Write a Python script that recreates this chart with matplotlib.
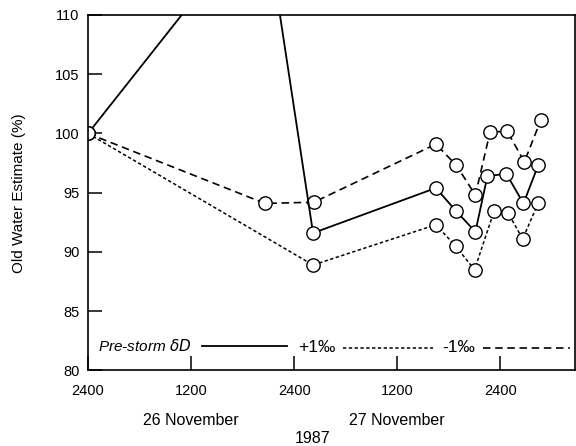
import matplotlib
matplotlib.use("Agg")
import matplotlib.pyplot as plt

plt.rcParams['font.family'] = ['Liberation Sans', 'DejaVu Sans']

# hours after 2400 on 25 November 1987
hours_pre = [0, 20.5, 26.2, 40.5, 42.8, 45.1, 46.5, 48.7, 50.7, 52.4]
old_water_pre = [100, 118.8, 91.6, 95.4, 93.5, 91.7, 96.4, 96.6, 94.1, 97.3]

hours_plus = [0, 26.2, 40.5, 42.8, 45.0, 47.3, 48.9, 50.6, 52.4]
old_water_plus = [100, 88.9, 92.3, 90.5, 88.5, 93.5, 93.3, 91.1, 94.1]

hours_minus = [0, 20.6, 26.3, 40.5, 42.9, 45.1, 46.8, 48.8, 50.8, 52.7]
old_water_minus = [100, 94.1, 94.2, 99.1, 97.3, 94.8, 100.1, 100.2, 97.6, 101.1]

xticks = [0, 12, 24, 36, 48]
xtick_labels = ["2400", "1200", "2400", "1200", "2400"]
yticks = [80, 85, 90, 95, 100, 105, 110]

fig = plt.figure(figsize=(5.76, 4.46), dpi=100)
ax = fig.add_axes([0.1528, 0.1693, 0.8455, 0.7971])

mk = dict(marker='o', markersize=9.6, markerfacecolor='white',
          markeredgecolor='black', markeredgewidth=1.0, color='black')
ax.plot(hours_plus, old_water_plus, linestyle=(0, (2.2, 1.6)), linewidth=1.1, **mk)
ax.plot(hours_minus, old_water_minus, linestyle=(0, (4.5, 2.8)), linewidth=1.2, **mk)
ax.plot(hours_pre, old_water_pre, linestyle='-', linewidth=1.3, **mk)

ax.set_xlim(0, 56.7)
ax.set_ylim(80, 110)
ax.set_xticks(xticks)
ax.set_xticklabels(xtick_labels)
ax.set_yticks(yticks)
ax.tick_params(direction='in', length=10, width=1.1, labelsize=10.5)
ax.tick_params(axis='x', pad=10)
ax.tick_params(axis='y', pad=6)
for s in ax.spines.values():
    s.set_linewidth(1.2)

ax.set_ylabel("Old Water Estimate (%)", fontsize=11, labelpad=21)

ax.text(12, -0.14, "26 November", transform=ax.get_xaxis_transform(),
        ha='center', va='center', fontsize=11.5)
ax.text(36, -0.14, "27 November", transform=ax.get_xaxis_transform(),
        ha='center', va='center', fontsize=11.5)
ax.text(26.1, -0.19, "1987", transform=ax.get_xaxis_transform(),
        ha='center', va='center', fontsize=11.5)

# legend keys drawn inside the axes
ly = 0.069
ax.text(0.0205, ly, r"Pre-storm $\delta D$", transform=ax.transAxes,
        ha='left', va='center', fontsize=11, style='italic')
ax.plot([0.234, 0.409], [ly, ly], transform=ax.transAxes, color='black', lw=1.3)
ax.text(0.431, ly - 0.005, "+1\u2030", transform=ax.transAxes,
        ha='left', va='center', fontsize=12.5)
ax.plot([0.524, 0.708], [ly - 0.005, ly - 0.005], transform=ax.transAxes,
        color='black', lw=1.1, linestyle=(0, (2.2, 1.6)))
ax.text(0.727, ly - 0.005, "-1\u2030", transform=ax.transAxes,
        ha='left', va='center', fontsize=12.5)
ax.plot([0.811, 0.990], [ly - 0.005, ly - 0.005], transform=ax.transAxes,
        color='black', lw=1.2, linestyle=(0, (4.5, 2.8)))

fig.savefig("out.png", dpi=100)
